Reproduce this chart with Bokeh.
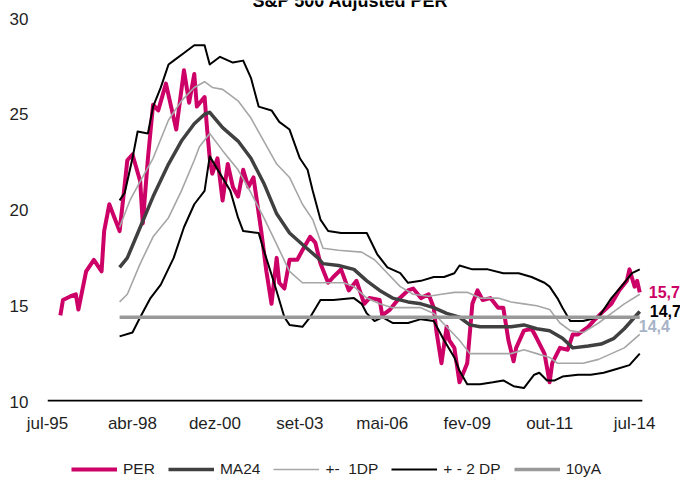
from bokeh.plotting import figure
from bokeh.layouts import column
from bokeh.models import Range1d, FixedTicker, Legend, LegendItem, Label
from bokeh.embed import file_html
from bokeh.resources import INLINE

FONT = "Liberation Sans"

# x = months since jul-95
tick_months = [0, 33, 65, 98, 130, 163, 195, 228]
tick_labels = ["jul-95", "abr-98", "dez-00", "set-03", "mai-06", "fev-09", "out-11", "jul-14"]
y_ticks = [10, 15, 20, 25, 30]
axis_months = [0, 231]

per_m = [5, 6, 9, 11, 12, 15, 18, 21, 22, 24, 26, 28, 29, 31, 33, 36, 37, 39, 41, 43, 46, 48, 50,
         53, 55, 57, 58, 61, 62, 63, 64, 66, 68, 70, 72, 74, 76, 78, 80, 83, 85, 87, 89, 90, 92,
         94, 97, 99, 102, 104, 106, 109, 111, 114, 117, 120, 123, 125, 129, 130, 133, 136, 140,
         142, 145, 148, 150, 151, 153, 155, 156, 158, 160, 163, 165, 167, 169, 172, 175, 177, 179,
         181, 182, 185, 188, 190, 193, 195, 196, 199, 202, 204, 206, 210, 212, 215, 219, 222, 225,
         226, 228, 229, 230]
per_v = [14.5, 15.3, 15.5, 15.6, 14.8, 16.8, 17.4, 16.8, 18.9, 20.3, 19.6, 18.9, 20.1, 22.6, 22.9,
         21.5, 19.3, 22.7, 25.5, 25.2, 26.6, 25.4, 24.2, 27.3, 25.6, 27.1, 25.4, 25.9, 24.2, 22.7,
         21.9, 22.7, 20.5, 22.4, 21.2, 20.7, 22.1, 21.2, 21.7, 18.9, 16.8, 15.1, 17.5, 16.2, 15.9,
         17.4, 17.4, 17.9, 18.6, 18.3, 17.2, 16.2, 16.5, 16.9, 15.8, 16.3, 15.1, 15.4, 15.3, 14.5,
         14.8, 15.3, 15.8, 15.9, 15.4, 15.6, 14.9, 13.7, 12.0, 13.9, 13.2, 12.8, 11.0, 12.0, 15.1,
         15.8, 15.3, 15.4, 14.9, 14.9, 13.2, 12.1, 12.8, 13.7, 13.8, 13.3, 12.5, 11.0, 12.0, 12.8,
         12.7, 13.5, 13.5, 13.9, 14.2, 14.6, 15.1, 15.8, 16.3, 16.9, 16.0, 16.3, 15.7]

ma_m = [28, 31, 36, 41, 47, 52, 57, 61, 63, 68, 74, 79, 84, 89, 94, 99, 105, 107, 113, 119, 124,
        129, 134, 140, 145, 150, 155, 160, 164, 168, 175, 180, 185, 190, 195, 200, 204, 210, 215,
        220, 224, 226, 230]
ma_v = [17.0, 17.5, 19.1, 20.7, 22.4, 23.6, 24.5, 25.0, 25.1, 24.3, 23.6, 22.7, 21.4, 19.8, 18.8,
        18.2, 17.5, 17.2, 17.1, 16.9, 16.3, 15.8, 15.4, 15.2, 15.1, 14.9, 14.6, 14.4, 14.0, 13.9,
        13.9, 13.9, 14.0, 13.8, 13.7, 13.3, 12.8, 12.9, 13.0, 13.3, 13.8, 14.1, 14.7]

up1_m = [28, 32, 36, 41, 47, 52, 57, 61, 64, 68, 74, 79, 84, 89, 94, 99, 103, 107, 113, 122, 127,
         132, 137, 142, 148, 153, 158, 163, 168, 175, 180, 185, 190, 195, 199, 203, 208, 214, 219,
         224, 230]
up1_v = [19.1, 20.5, 21.5, 22.7, 24.7, 25.7, 26.4, 26.7, 26.4, 26.3, 25.7, 24.8, 23.6, 22.4, 21.7,
         20.3, 19.5, 18.0, 17.9, 17.8, 17.4, 16.7, 16.0, 15.6, 15.5, 15.6, 15.7, 15.7, 15.4, 15.4,
         15.2, 15.1, 15.0, 14.8, 14.1, 13.7, 13.6, 14.1, 14.6, 15.1, 15.6]

dn1_m = [28, 31, 36, 41, 47, 52, 57, 59, 63, 68, 74, 79, 84, 89, 94, 99, 105, 110, 115, 119, 124,
         129, 134, 140, 145, 150, 155, 160, 164, 169, 175, 180, 185, 190, 195, 198, 203, 208, 214,
         219, 224, 230]
dn1_v = [15.2, 15.6, 17.2, 18.6, 19.6, 21.0, 22.6, 23.3, 24.0, 23.1, 22.1, 20.9, 19.6, 18.2, 16.8,
         16.2, 16.2, 16.2, 16.2, 16.0, 15.4, 15.1, 14.9, 14.9, 14.9, 14.6, 13.9, 13.2, 12.5, 12.5,
         12.5, 12.5, 12.7, 12.5, 12.3, 12.0, 12.0, 12.0, 12.2, 12.5, 12.8, 13.5]

up2_m = [28, 30, 33, 35, 39, 41, 44, 47, 49, 53, 57, 61, 63, 67, 72, 76, 79, 82, 87, 90, 94, 98,
         101, 103, 106, 109, 114, 119, 124, 128, 132, 137, 140, 145, 150, 154, 158, 160, 165, 171,
         177, 183, 188, 193, 195, 198, 200, 203, 208, 214, 219, 224, 227, 230]
up2_v = [20.5, 20.9, 22.7, 24.1, 24.0, 25.4, 26.4, 27.6, 27.8, 28.2, 28.6, 28.6, 27.6, 28.0, 27.7,
         27.8, 26.9, 25.4, 25.2, 24.6, 24.2, 22.7, 22.1, 21.0, 19.5, 18.9, 18.8, 18.8, 18.8, 17.7,
         17.0, 16.7, 16.2, 16.3, 16.5, 16.5, 16.7, 17.1, 16.9, 16.9, 16.7, 16.7, 16.5, 16.2, 16.0,
         15.4, 14.9, 14.2, 14.2, 14.4, 15.4, 16.2, 16.7, 16.9]

dn2_m = [28, 33, 36, 40, 44, 49, 53, 57, 61, 63, 67, 71, 74, 76, 82, 84, 88, 92, 94, 99, 102, 106,
         111, 119, 122, 124, 127, 130, 134, 140, 145, 150, 154, 158, 160, 163, 168, 173, 177, 181,
         185, 189, 191, 194, 197, 200, 206, 211, 216, 221, 226, 230]
dn2_v = [13.4, 13.6, 14.4, 15.4, 16.1, 17.5, 19.1, 20.3, 21.0, 22.8, 21.9, 21.0, 19.6, 18.9, 18.8,
         17.9, 16.2, 14.4, 14.0, 13.9, 14.4, 15.3, 15.3, 15.4, 15.1, 14.6, 14.2, 14.4, 14.1, 14.1,
         14.3, 14.2, 13.2, 12.3, 11.6, 10.9, 10.9, 11.0, 11.1, 10.8, 10.7, 11.4, 11.5, 11.1, 11.1,
         11.3, 11.4, 11.4, 11.5, 11.7, 11.9, 12.5]

ten_m = [28, 230]
ten_v = [14.4, 14.4]

series_names = ["PER", "MA24", "+-  1DP", "+ - 2 DP", "10yA"]
series_colors = ["#cc0066", "#404040", "#a6a6a6", "#000000", "#999999"]
series_widths = [4, 3.5, 1.6, 2, 3.5]

W = 680
H1, H2 = 445, 36
FRAME_L, FRAME_B = 47, 401
PX_PER_MONTH = 2.575
PX_PER_UNIT = 19.15

p = figure(width=W, height=H1, output_backend="svg", toolbar_location=None,
           x_range=Range1d(0, (W - FRAME_L) / PX_PER_MONTH),
           y_range=Range1d(10, 10 + FRAME_B / PX_PER_UNIT),
           min_border_left=FRAME_L, min_border_right=0,
           min_border_top=0, min_border_bottom=H1 - FRAME_B)
p.outline_line_color = None
p.xgrid.grid_line_color = None
p.ygrid.grid_line_color = None
p.background_fill_color = "white"
p.border_fill_color = "white"

xs = [per_m, ma_m, up1_m, dn1_m, up2_m, dn2_m, ten_m]
ys = [per_v, ma_v, up1_v, dn1_v, up2_v, dn2_v, ten_v]
style_idx = [0, 1, 2, 2, 3, 3, 4]
for x, y, k in zip(xs, ys, style_idx):
    p.line(x, y, line_color=series_colors[k], line_width=series_widths[k], line_join="round")
# baseline of the chart (category axis line)
p.line(axis_months, [y_ticks[0]] * 2, line_color="black", line_width=3.5)

# axes
p.xaxis.ticker = FixedTicker(ticks=tick_months)
p.xaxis.major_label_overrides = {m: t for m, t in zip(tick_months, tick_labels)}
p.xaxis.major_label_standoff = 12
p.yaxis.ticker = FixedTicker(ticks=y_ticks)
p.yaxis.major_label_standoff = 19
for ax in (p.xaxis[0], p.yaxis[0]):
    ax.axis_line_color = None
    ax.major_tick_line_color = None
    ax.minor_tick_line_color = None
    ax.major_tick_out = 0
    ax.major_tick_in = 0
    ax.minor_tick_out = 0
    ax.minor_tick_in = 0
    ax.major_label_text_font = FONT
    ax.major_label_text_font_size = "17px"
    ax.major_label_text_color = "#1f1f1f"

# end labels
def fmt(v):
    return f"{v:.1f}".replace(".", ",")

p.add_layout(Label(x=per_m[-1], y=per_v[-1], x_offset=9, text=fmt(per_v[-1]),
                   text_font=FONT, text_font_size="16px", text_font_style="bold",
                   text_color="#cc0066", text_baseline="middle"))
p.add_layout(Label(x=ma_m[-1], y=ma_v[-1], x_offset=10, text=fmt(ma_v[-1]),
                   text_font=FONT, text_font_size="16px", text_font_style="bold",
                   text_color="#000000", text_baseline="middle"))
p.add_layout(Label(x=ten_m[-1], y=ten_v[-1], x_offset=-1, y_offset=-9, text=fmt(ten_v[-1]),
                   text_font=FONT, text_font_size="16px", text_font_style="bold",
                   text_color="#a7b3c6", text_baseline="middle"))

# title (top clipped like the reference)
p.add_layout(Label(x=350 - FRAME_L, y=FRAME_B, x_units="screen", y_units="screen",
                   text="S&P 500 Adjusted PER", text_align="center", text_baseline="alphabetic",
                   text_font=FONT, text_font_size="18px", text_font_style="bold",
                   text_color="#000000"))

# legend strip below the chart
q = figure(width=W, height=H2, output_backend="svg", toolbar_location=None,
           x_range=Range1d(0, 1), y_range=Range1d(0, 1),
           x_axis_type=None, y_axis_type=None,
           min_border_left=0, min_border_right=0, min_border_top=0, min_border_bottom=0)
q.outline_line_color = None
q.xgrid.grid_line_color = None
q.ygrid.grid_line_color = None
q.background_fill_color = "white"
q.border_fill_color = "white"
items = []
nan = float("nan")
for name, c, w in zip(series_names, series_colors, series_widths):
    r = q.line([nan], [nan], line_color=c, line_width=w)
    items.append(LegendItem(label=name, renderers=[r]))
legend = Legend(items=items, orientation="horizontal", location=(71 - FRAME_L, 2),
                border_line_alpha=0, background_fill_alpha=0, glyph_width=46, glyph_height=20,
                label_standoff=6, spacing=13, padding=0, margin=0, label_height=20,
                label_text_font=FONT, label_text_font_size="15.5px",
                label_text_color="#1f1f1f")
q.add_layout(legend)

layout = column(p, q, spacing=0)
open("out.html", "w").write(file_html(layout, INLINE))
